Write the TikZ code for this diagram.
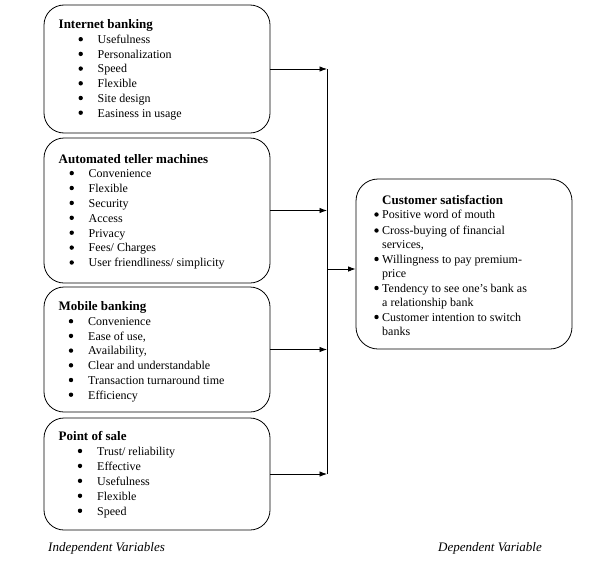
\documentclass[tikz,border=0pt]{standalone}
\usepackage{fontspec}
\setmainfont{Liberation Serif}
\usetikzlibrary{arrows.meta}
\begin{document}
\begin{tikzpicture}[x=1pt,y=-1pt,
  box/.style={draw=black, line width=0.8pt, rounded corners=20pt, inner sep=0pt},
  ttl/.style={anchor=west, inner sep=0pt, yshift=-1.5pt, font=\fontsize{13}{15}\selectfont\bfseries, text height=9pt, text depth=3pt},
  item/.style={anchor=west, inner sep=0pt, yshift=-1.3pt, font=\fontsize{12}{14}\selectfont, text height=8.5pt, text depth=2.5pt},
  bul/.style={circle, fill=black, inner sep=0pt, minimum size=4.4pt},
  lbl/.style={anchor=west, inner sep=0pt, yshift=-1pt, font=\fontsize{13}{15}\selectfont\itshape, text height=9pt, text depth=3pt},
  conn/.style={line width=0.8pt, draw=black},
  arr/.style={conn, -{Latex[length=7.5pt,width=5.5pt]}}]
\useasboundingbox (0,0) rectangle (596,570);

% boxes
\node[box, minimum width=226pt, minimum height=128pt] (b1) at (157,69) {};
\node[box, minimum width=226pt, minimum height=145pt] (b2) at (157,210.5) {};
\node[box, minimum width=226pt, minimum height=125pt] (b3) at (157,349.5) {};
\node[box, minimum width=226pt, minimum height=112pt] (b4) at (157,474) {};
\node[box, rounded corners=22pt, minimum width=216pt, minimum height=170pt] (cs) at (464,264) {};

% box 1
\node[ttl] (t1) at (58.5,24) {Internet banking};
\foreach \t [count=\i] in {Usefulness, Personalization, Speed, Flexible, Site design, Easiness in usage} {
  \node[bul] (d1-\i) at (80.7,{24.5+14.7*\i}) {};
  \node[item] (i1-\i) at (97.5,{24.5+14.7*\i}) {\t};
}
% box 2
\node[ttl] (t2) at (58.5,158.5) {Automated teller machines};
\foreach \t [count=\i] in {Convenience, Flexible, Security, Access, Privacy, Fees/ Charges, User friendliness/ simplicity} {
  \node[bul] (d2-\i) at (71.7,{158.2+14.9*\i}) {};
  \node[item] (i2-\i) at (88.5,{158.2+14.9*\i}) {\t};
}
% box 3
\node[ttl] (t3) at (58.5,305.5) {Mobile banking};
\foreach \t [count=\i] in {Convenience, {Ease of use,}, {Availability,}, Clear and understandable, Transaction turnaround time, Efficiency} {
  \node[bul] (d3-\i) at (71,{306.5+14.7*\i}) {};
  \node[item] (i3-\i) at (88,{306.5+14.7*\i}) {\t};
}
% box 4
\node[ttl] (t4) at (58.5,435.5) {Point of sale};
\foreach \t [count=\i] in {Trust/ reliability, Effective, Usefulness, Flexible, Speed} {
  \node[bul] (d4-\i) at (80,{436+14.95*\i}) {};
  \node[item] (i4-\i) at (97,{436+14.95*\i}) {\t};
}
% customer satisfaction
\node[ttl] (t5) at (382,200) {Customer satisfaction};
\foreach \y/\t [count=\i] in {214.5/Positive word of mouth, 230.5/Cross-buying of financial, 244.5/{services,}, 259/Willingness to pay premium-, 273.5/price, 288/Tendency to see one’s bank as, 302/a relationship bank, 317/Customer intention to switch, 331/banks} {
  \node[item] (i5-\i) at (382,\y) {\t};
}
\foreach \y [count=\i] in {214.5, 230.5, 259, 288, 317} {
  \node[bul] (d5-\i) at (376.5,\y) {};
}

% connectors
\coordinate (top) at (327,69);
\coordinate (bot) at (327,474);
\coordinate (j) at (327,269);
\draw[conn] (top) -- (bot);
\foreach \b in {b1,b2,b3,b4} {
  \draw[arr] (\b.east) -- (\b.east -| top);
}
\draw[arr] (j) -- (j -| cs.west);

% labels
\node[lbl] (l1) at (48,547) {Independent Variables};
\node[lbl] (l2) at (438,547) {Dependent Variable};
\end{tikzpicture}
\end{document}
